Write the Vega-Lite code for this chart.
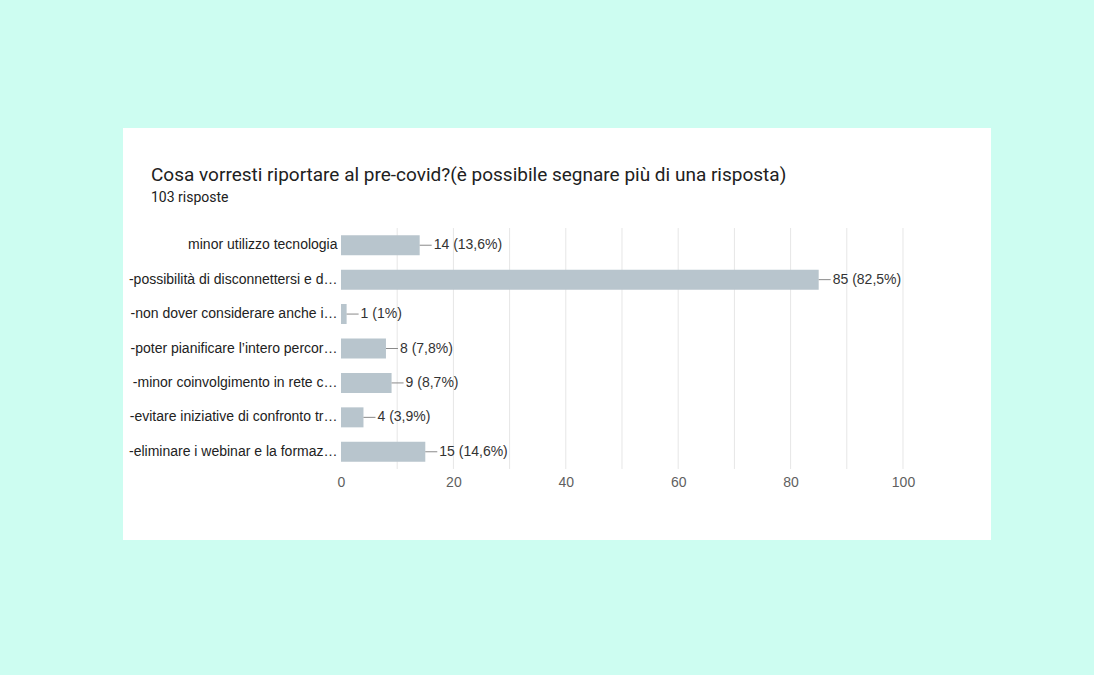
{
  "$schema": "https://vega.github.io/schema/vega-lite/v6.json",
  "width": 868,
  "height": 412,
  "autosize": {"type": "none"},
  "padding": {"left": 123, "top": 128, "right": 103, "bottom": 135},
  "background": "#cdfdf1",
  "view": {"fill": "white", "stroke": null},
  "title": {
    "text": "Cosa vorresti riportare al pre-covid?(è possibile segnare più di una risposta)",
    "subtitle": "103 risposte",
    "anchor": "start",
    "frame": "group",
    "orient": "top",
    "offset": -77,
    "dx": 28,
    "font": "Roboto",
    "fontSize": 19,
    "fontWeight": "normal",
    "color": "#212121",
    "subtitleFont": "Roboto",
    "subtitleFontSize": 14,
    "subtitleColor": "#212121",
    "subtitlePadding": 6
  },
  "datasets": {
    "resp": [
      {"cat": "minor utilizzo tecnologia", "v": 14, "lab": "14 (13,6%)"},
      {"cat": "-possibilità di disconnettersi e d…", "v": 85, "lab": "85 (82,5%)"},
      {"cat": "-non dover considerare anche i…", "v": 1, "lab": "1 (1%)"},
      {"cat": "-poter pianificare l’intero percor…", "v": 8, "lab": "8 (7,8%)"},
      {"cat": "-minor coinvolgimento in rete c…", "v": 9, "lab": "9 (8,7%)"},
      {"cat": "-evitare iniziative di confronto tr…", "v": 4, "lab": "4 (3,9%)"},
      {"cat": "-eliminare i webinar e la formaz…", "v": 15, "lab": "15 (14,6%)"}
    ],
    "grid": [
      {"g": 10}, {"g": 20}, {"g": 30}, {"g": 40}, {"g": 50},
      {"g": 60}, {"g": 70}, {"g": 80}, {"g": 90}, {"g": 100}
    ]
  },
  "layer": [
    {
      "data": {"name": "grid"},
      "mark": {"type": "rule", "color": "#e6e6e6", "strokeWidth": 1, "yOffset": -17.2, "y2Offset": 17.2},
      "encoding": {
        "x": {"field": "g", "type": "quantitative"},
        "y": {"datum": "minor utilizzo tecnologia"},
        "y2": {"datum": "-eliminare i webinar e la formaz…"}
      }
    },
    {
      "data": {"name": "resp"},
      "mark": {"type": "bar", "color": "#b8c5cd"},
      "encoding": {
        "y": {
          "field": "cat",
          "type": "nominal",
          "sort": null,
          "scale": {
            "domain": [
              "minor utilizzo tecnologia",
              "-possibilità di disconnettersi e d…",
              "-non dover considerare anche i…",
              "-poter pianificare l’intero percor…",
              "-minor coinvolgimento in rete c…",
              "-evitare iniziative di confronto tr…",
              "-eliminare i webinar e la formaz…"
            ],
            "range": [100, 341],
            "paddingInner": 0.419,
            "paddingOuter": 0.21
          },
          "axis": {
            "title": null,
            "orient": "left",
            "offset": -218,
            "labelPadding": 4,
            "domain": false,
            "ticks": false,
            "grid": false,
            "labelFont": "Liberation Sans",
            "labelFontSize": 14,
            "labelColor": "#222222",
            "labelLimit": 0
          }
        },
        "x": {
          "field": "v",
          "type": "quantitative",
          "scale": {"domain": [-38.79, 115.66], "nice": false, "zero": false},
          "axis": {
            "title": null,
            "orient": "bottom",
            "offset": -71,
            "values": [0, 20, 40, 60, 80, 100],
            "labelPadding": 6,
            "domain": false,
            "ticks": false,
            "grid": false,
            "labelFont": "Liberation Sans",
            "labelFontSize": 14,
            "labelColor": "#5f5f5f"
          }
        },
        "x2": {"datum": 0}
      }
    },
    {
      "data": {"name": "resp"},
      "mark": {"type": "rule", "color": "#8a8a8a", "strokeWidth": 1, "x2Offset": 12},
      "encoding": {
        "y": {"field": "cat", "type": "nominal", "sort": null},
        "x": {"field": "v", "type": "quantitative"},
        "x2": {"field": "v"}
      }
    },
    {
      "data": {"name": "resp"},
      "mark": {"type": "text", "align": "left", "baseline": "middle", "dx": 14, "font": "Liberation Sans", "fontSize": 14, "color": "#333333"},
      "encoding": {
        "y": {"field": "cat", "type": "nominal", "sort": null},
        "x": {"field": "v", "type": "quantitative"},
        "text": {"field": "lab"}
      }
    },
    {
      "mark": {"type": "rule", "color": "#e6e6e6", "strokeWidth": 1, "yOffset": 17.2},
      "encoding": {
        "x": {"datum": 0},
        "x2": {"datum": 100},
        "y": {"datum": "-eliminare i webinar e la formaz…"}
      }
    },
    {
      "mark": {"type": "rule", "color": "#555555", "strokeWidth": 1.5, "yOffset": -17.2, "y2Offset": 17.2},
      "encoding": {
        "x": {"datum": 0},
        "y": {"datum": "minor utilizzo tecnologia"},
        "y2": {"datum": "-eliminare i webinar e la formaz…"}
      }
    }
  ],
  "config": {"axis": {"labelFlush": false}}
}
